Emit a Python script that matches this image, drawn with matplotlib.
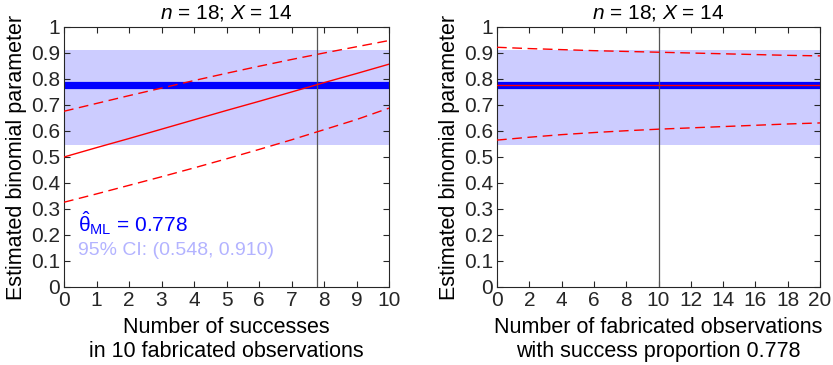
import matplotlib
matplotlib.use("Agg")
import matplotlib.pyplot as plt
import numpy as np

plt.rcParams['font.family'] = ['Liberation Sans', 'DejaVu Sans']
plt.rcParams['mathtext.fontset'] = 'custom'
plt.rcParams['mathtext.rm'] = 'Liberation Sans'
plt.rcParams['mathtext.it'] = 'Liberation Sans:italic'
plt.rcParams['mathtext.bf'] = 'Liberation Sans:bold'

# ---- data ----
theta_ml = 0.778
ci_low, ci_high = 0.548, 0.910
vline_left = 7.78
vline_right = 10

k_succ = [0, 1, 2, 3, 4, 5, 6, 7, 8, 9, 10]
est_left = [0.500, 0.536, 0.571, 0.607, 0.643, 0.679, 0.714, 0.750, 0.786, 0.821, 0.857]
low_left = [0.326, 0.358, 0.391, 0.424, 0.458, 0.493, 0.529, 0.566, 0.605, 0.644, 0.688]
high_left = [0.676, 0.706, 0.736, 0.765, 0.794, 0.822, 0.849, 0.875, 0.900, 0.924, 0.948]

m_fab = [0, 2, 4, 6, 8, 10, 12, 14, 16, 18, 20]
est_right = [0.778] * 11
low_right = [0.565, 0.576, 0.586, 0.594, 0.601, 0.607, 0.612, 0.617, 0.622, 0.627, 0.631]
high_right = [0.922, 0.917, 0.913, 0.909, 0.906, 0.903, 0.900, 0.897, 0.894, 0.891, 0.889]

W, H = 833, 365
fig = plt.figure(figsize=(W / 100, H / 100), dpi=100)

band_col = '#ccccff'
blue = '#0000ff'
red = '#ff0000'
fs_tick = 15
fs_lab = 15.5
fs_title = 15

def style(ax, xmax, xticks):
    ax.set_xlim(0, xmax)
    ax.set_ylim(0, 1)
    ax.set_xticks(xticks)
    ax.set_yticks(np.arange(0, 1.01, 0.1))
    ax.set_yticklabels(['0'] + ['%.1f' % v for v in np.arange(0.1, 0.95, 0.1)] + ['1'])
    ax.tick_params(direction='in', length=4, width=0.8, labelsize=fs_tick,
                   top=True, right=True, colors='#262626', pad=3)
    for s in ax.spines.values():
        s.set_color('#262626')
        s.set_linewidth(0.8)
    ax.set_title('$n$ = 18; $X$ = 14', fontsize=fs_title, pad=6)
    ax.set_ylabel('Estimated binomial parameter', fontsize=fs_lab, labelpad=3)

dash = (0, (7, 4))

# left
ax1 = fig.add_axes([64 / W, (H - 287) / H, 325 / W, 260 / H])
ax1.axhspan(ci_low, ci_high, color=band_col, lw=0, zorder=0)
ax1.axhline(theta_ml, color=blue, lw=5.2, zorder=1)
ax1.axvline(vline_left, color='#555555', lw=0.9, zorder=2)
ax1.plot(k_succ, est_left, color=red, lw=1.0, zorder=3)
ax1.plot(k_succ, low_left, color=red, lw=1.0, ls=dash, zorder=3)
ax1.plot(k_succ, high_left, color=red, lw=1.0, ls=dash, zorder=3)
style(ax1, 10, range(0, 11))
ax1.set_xlabel('Number of successes\nin 10 fabricated observations', fontsize=fs_lab, labelpad=5, linespacing=1.2)
ax1.text(0.42, 0.246, r'$\hat{\mathrm{\theta}}_{\mathrm{ML}}$ = 0.778', color=blue, fontsize=15, va='center')
ax1.text(0.42, 0.142, '95% CI: (0.548, 0.910)', color='#b3b3ff', fontsize=14, va='center')

# right
ax2 = fig.add_axes([497 / W, (H - 287) / H, 323 / W, 260 / H])
ax2.axhspan(ci_low, ci_high, color=band_col, lw=0, zorder=0)
ax2.axhline(theta_ml, color=blue, lw=5.2, zorder=1)
ax2.axvline(vline_right, color='#555555', lw=0.9, zorder=2)
ax2.plot(m_fab, est_right, color=red, lw=1.0, zorder=3)
ax2.plot(m_fab, low_right, color=red, lw=1.0, ls=dash, zorder=3)
ax2.plot(m_fab, high_right, color=red, lw=1.0, ls=dash, zorder=3)
style(ax2, 20, range(0, 21, 2))
ax2.set_xlabel('Number of fabricated observations\nwith success proportion 0.778', fontsize=fs_lab, labelpad=5, linespacing=1.2)

fig.savefig('out.png', dpi=100)
